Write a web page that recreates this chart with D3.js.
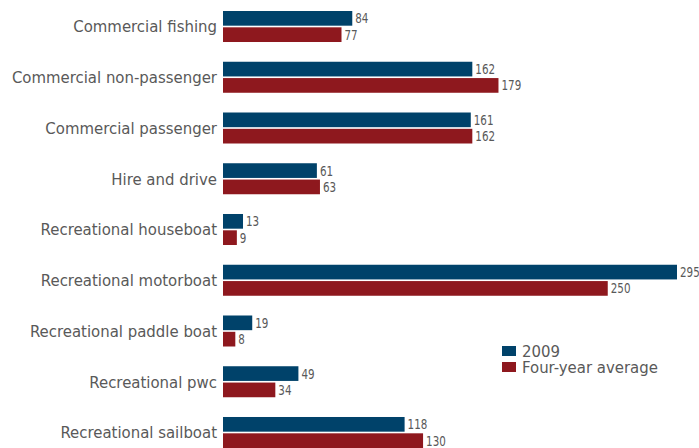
<!DOCTYPE html>
<html>
<head>
<meta charset="utf-8">
<script src="https://cdnjs.cloudflare.com/ajax/libs/d3/7.8.5/d3.min.js"></script>
<style>
  html, body { margin: 0; padding: 0; background: #fff; }
  #chart { width: 699px; height: 448px; }
</style>
</head>
<body>
<div id="chart"></div>
<script>
// Data
const categories = [
  "Commercial fishing",
  "Commercial non-passenger",
  "Commercial passenger",
  "Hire and drive",
  "Recreational houseboat",
  "Recreational motorboat",
  "Recreational paddle boat",
  "Recreational pwc",
  "Recreational sailboat"
];
const seriesNames = ["2009", "Four-year average"];
const values2009 = [84, 162, 161, 61, 13, 295, 19, 49, 118];
const valuesAvg = [77, 179, 162, 63, 9, 250, 8, 34, 130];
const seriesColors = ["#00426a", "#8e181e"];

const width = 699, height = 448;
const labelFont = "'DejaVu Sans Condensed', 'DejaVu Sans', sans-serif";
const valueFont = "'DejaVu Sans', sans-serif";

const rows = categories.map((c, i) => ({
  name: c,
  vals: [values2009[i], valuesAvg[i]]
}));

const svg = d3.select("#chart").append("svg")
  .attr("width", width)
  .attr("height", height);

const x = d3.scaleLinear()
  .domain([0, 295])
  .range([223, 677]);

const y0 = d3.scaleBand()
  .domain(categories)
  .range([11, 448])
  .paddingInner(0.389)
  .paddingOuter(0);

const y1 = d3.scaleBand()
  .domain(seriesNames)
  .range([0, y0.bandwidth()])
  .paddingInner(0.1);

const groups = svg.selectAll(".grp")
  .data(rows)
  .join("g")
  .attr("class", "grp")
  .attr("transform", d => `translate(0,${y0(d.name)})`);

// category labels
groups.append("text")
  .attr("x", 217)
  .attr("y", y0.bandwidth() / 2)
  .attr("dy", "0.36em")
  .attr("text-anchor", "end")
  .attr("font-family", labelFont)
  .attr("font-size", "16.6px")
  .attr("fill", "#595959")
  .text(d => d.name);

// bars
groups.selectAll("rect")
  .data(d => d.vals.map((v, i) => ({ key: seriesNames[i], value: v, i })))
  .join("rect")
  .attr("x", x(0))
  .attr("y", d => y1(d.key))
  .attr("width", d => x(d.value) - x(0))
  .attr("height", y1.bandwidth())
  .attr("fill", d => seriesColors[d.i]);

// value labels (narrow look: squeeze horizontally)
groups.selectAll(".val")
  .data(d => d.vals.map((v, i) => ({ key: seriesNames[i], value: v, i })))
  .join("text")
  .attr("class", "val")
  .attr("transform", d => `translate(${x(d.value) + 3},${y1(d.key) + y1.bandwidth() / 2}) scale(0.74,1)`)
  .attr("dy", "0.36em")
  .attr("font-family", valueFont)
  .attr("font-size", "14px")
  .attr("fill", "#595959")
  .text(d => d.value);

// legend
const legend = svg.append("g")
  .attr("transform", "translate(502,346)");

const li = legend.selectAll("g")
  .data(seriesNames)
  .join("g")
  .attr("transform", (d, i) => `translate(0,${i * 16})`);

li.append("rect")
  .attr("width", 14)
  .attr("height", 10)
  .attr("fill", (d, i) => seriesColors[i]);

li.append("text")
  .attr("x", 20)
  .attr("y", 5)
  .attr("dy", "0.35em")
  .attr("font-family", labelFont)
  .attr("font-size", "16.6px")
  .attr("fill", "#595959")
  .text(d => d);
</script>
</body>
</html>
